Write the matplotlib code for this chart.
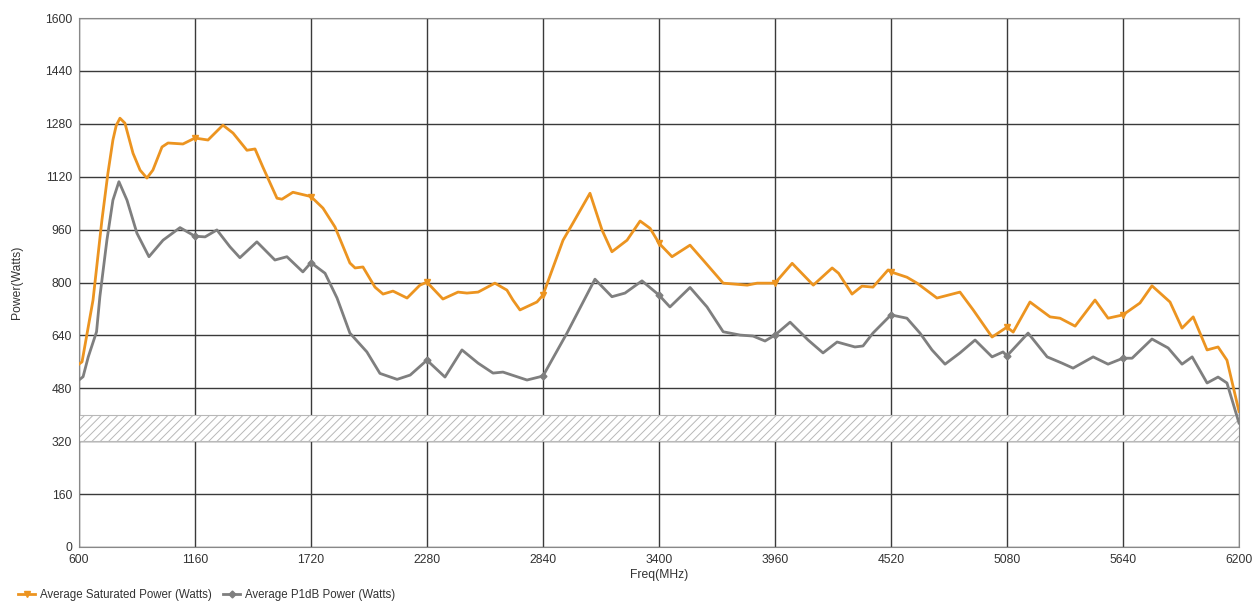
import numpy as np
import matplotlib
matplotlib.use('Agg')
import matplotlib.pyplot as plt

plt.rcParams['font.family'] = ['Liberation Sans', 'DejaVu Sans']

# Average Saturated Power (Watts)
sat_freq = [600, 615, 668, 711, 740, 764, 780, 798, 822, 861, 895, 928, 957, 1001, 1030, 1102,
            1160, 1223, 1295, 1344, 1411, 1450, 1488, 1556, 1580, 1633, 1720, 1778, 1836,
            1908, 1933, 1971, 2029, 2068, 2116, 2184, 2246, 2280, 2357, 2430, 2473, 2527,
            2608, 2666, 2695, 2729, 2811, 2840, 2937, 2985, 3067, 3125, 3173, 3246, 3309,
            3357, 3400, 3463, 3550, 3613, 3710, 3826, 3874, 3960, 4043, 4145, 4236, 4267,
            4332, 4380, 4433, 4506, 4520, 4597, 4646, 4742, 4853, 4917, 5008, 5080, 5110,
            5191, 5288, 5336, 5409, 5505, 5568, 5640, 5722, 5780, 5867, 5925, 5979, 6046,
            6099, 6142, 6200]
sat_power = [553, 560, 747, 989, 1131, 1231, 1275, 1297, 1282, 1191, 1140, 1116, 1140, 1210, 1222, 1219,
             1237, 1231, 1276, 1252, 1200, 1204, 1149, 1055, 1052, 1073, 1060, 1025, 968,
             859, 844, 847, 786, 765, 774, 753, 792, 801, 750, 771, 768, 771,
             798, 777, 747, 717, 741, 762, 928, 980, 1070, 959, 893, 928, 986,
             964, 919, 878, 913, 868, 798, 792, 798, 798, 858, 792, 844, 828,
             765, 789, 786, 838, 832, 816, 798, 753, 771, 717, 635, 665, 650,
             741, 696, 692, 668, 747, 692, 702, 738, 790, 741, 662, 696, 596,
             605, 565, 410]

# Average P1dB Power (Watts)
p1_freq = [600, 620, 645, 685, 701, 735, 764, 793, 832, 880, 938, 1006, 1088, 1160, 1209,
           1266, 1329, 1377, 1459, 1546, 1604, 1681, 1720, 1788, 1846, 1908, 1990, 2053,
           2136, 2199, 2280, 2367, 2449, 2527, 2599, 2647, 2763, 2840, 2956, 3091, 3173,
           3236, 3318, 3400, 3453, 3550, 3632, 3710, 3792, 3854, 3912, 3960, 4033, 4120,
           4192, 4260, 4346, 4385, 4433, 4520, 4597, 4660, 4718, 4781, 4853, 4926, 5008,
           5061, 5080, 5182, 5274, 5346, 5399, 5496, 5568, 5640, 5684, 5780, 5858, 5925,
           5974, 6046, 6099, 6142, 6200]
p1_power = [505, 515, 575, 651, 757, 928, 1049, 1105, 1049, 949, 878, 928, 966, 940, 938,
            959, 908, 875, 923, 868, 878, 832, 860, 828, 753, 647, 590, 525,
            507, 520, 565, 514, 596, 556, 526, 529, 505, 517, 647, 810, 757,
            768, 805, 762, 726, 785, 726, 651, 641, 638, 623, 641, 680, 626,
            587, 620, 605, 608, 647, 702, 692, 647, 596, 553, 587, 626, 575,
            590, 578, 647, 575, 556, 541, 575, 553, 571, 571, 629, 602, 553,
            575, 496, 514, 496, 375]

x_ticks = [600, 1160, 1720, 2280, 2840, 3400, 3960, 4520, 5080, 5640, 6200]
y_ticks = [0, 160, 320, 480, 640, 800, 960, 1120, 1280, 1440, 1600]
band_low, band_high = 320, 400

fig = plt.figure(figsize=(12.59, 6.01), dpi=100)
ax = fig.add_axes([0.0627, 0.0899, 0.9214, 0.8801])

plt.rcParams['hatch.color'] = '#a8a8a8'
plt.rcParams['hatch.linewidth'] = 0.7
ax.axhspan(band_low, band_high, facecolor='white', edgecolor='#b8b8b8',
           hatch='////', linewidth=0.8, zorder=1)

sat_marks = [i for i, f in enumerate(sat_freq) if f in x_ticks[1:-1]]
p1_marks = [i for i, f in enumerate(p1_freq) if f in x_ticks[1:-1]]

ax.plot(p1_freq, p1_power, color='#7f7f7f', lw=2, marker='D', ms=3.5,
        markevery=p1_marks, label='Average P1dB Power (Watts)', zorder=3)
ax.plot(sat_freq, sat_power, color='#ec9420', lw=2, marker='v', ms=5,
        markevery=sat_marks, label='Average Saturated Power (Watts)', zorder=4)

ax.set_xlim(600, 6200)
ax.set_ylim(0, 1600)
ax.set_xticks(x_ticks)
ax.set_yticks(y_ticks)
ax.grid(True, color='#3a3a3a', lw=1, zorder=0)
ax.set_axisbelow(True)
for s in ax.spines.values():
    s.set_color('#888888')
ax.tick_params(length=0, labelsize=8.7, colors='#333333', pad=5)
ax.set_xlabel('Freq(MHz)', fontsize=8.7, color='#333333', labelpad=2)
ax.set_ylabel('Power(Watts)', fontsize=8.7, color='#333333', labelpad=16)

h, l = ax.get_legend_handles_labels()
fig.legend(h[::-1], l[::-1], loc='lower left', bbox_to_anchor=(0.006, -0.018), ncol=2,
           frameon=False, fontsize=8.3, handlelength=1.5, handletextpad=0.4,
           columnspacing=1.0, labelcolor='#333333')

fig.savefig('out.png', dpi=100)
